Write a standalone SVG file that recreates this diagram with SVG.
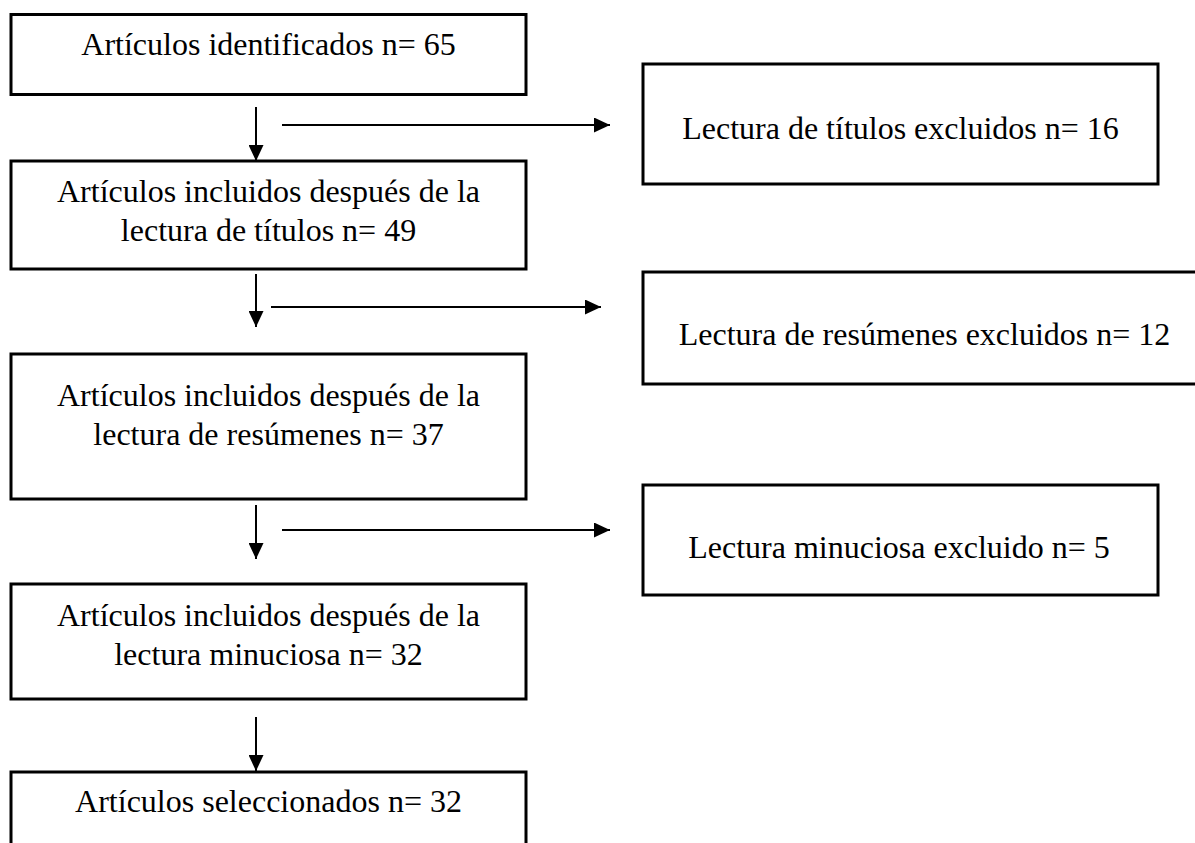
<svg xmlns="http://www.w3.org/2000/svg" width="1195" height="843" viewBox="0 0 1195 843">
<style>
.box{fill:#fff;stroke:#000;stroke-width:3}
.t{font-family:"Liberation Serif","Times New Roman",serif;font-size:32px;fill:#000;text-anchor:middle}
.c{stroke:#000;stroke-width:2;fill:none;marker-end:url(#ah)}
</style>
<defs>
<marker id="ah" markerUnits="userSpaceOnUse" markerWidth="16" markerHeight="15" refX="16" refY="7.5" orient="auto">
<path d="M0,0 L16,7.5 L0,15 z" fill="#000"/>
</marker>
</defs>
<rect width="1195" height="843" fill="#fff"/>
<g id="n1"><rect class="box" x="11" y="14.5" width="515" height="80"/><text class="t" x="268.5" y="55">Artículos identificados n= 65</text></g>
<g id="n2"><rect class="box" x="11" y="161" width="515" height="108"/><text class="t" x="268.5" y="202">Artículos incluidos después de la</text><text class="t" x="268.5" y="241">lectura de títulos n= 49</text></g>
<g id="n3"><rect class="box" x="11" y="354" width="515" height="145"/><text class="t" x="268.5" y="406">Artículos incluidos después de la</text><text class="t" x="268.5" y="445">lectura de resúmenes n= 37</text></g>
<g id="n4"><rect class="box" x="11" y="584" width="515" height="115"/><text class="t" x="268.5" y="626">Artículos incluidos después de la</text><text class="t" x="268.5" y="665">lectura minuciosa n= 32</text></g>
<g id="n5"><rect class="box" x="11" y="772" width="515" height="100"/><text class="t" x="268.5" y="812">Artículos seleccionados n= 32</text></g>
<g id="r1"><rect class="box" x="643" y="64" width="515" height="120"/><text class="t" x="900.5" y="139">Lectura de títulos excluidos n= 16</text></g>
<g id="r2"><rect class="box" x="643" y="272" width="570" height="112"/><text class="t" x="924.5" y="345">Lectura de resúmenes excluidos n= 12</text></g>
<g id="r3"><rect class="box" x="643" y="485" width="515" height="110"/><text class="t" x="899" y="558">Lectura minuciosa excluido n= 5</text></g>
<g id="connectors">
<line class="c" x1="256" y1="107" x2="256" y2="161"/>
<line class="c" x1="282" y1="125" x2="610" y2="125"/>
<line class="c" x1="256" y1="274" x2="256" y2="327"/>
<line class="c" x1="271" y1="307" x2="601" y2="307"/>
<line class="c" x1="256" y1="505" x2="256" y2="559"/>
<line class="c" x1="282" y1="530" x2="610" y2="530"/>
<line class="c" x1="256" y1="717" x2="256" y2="771"/>
</g>
</svg>
